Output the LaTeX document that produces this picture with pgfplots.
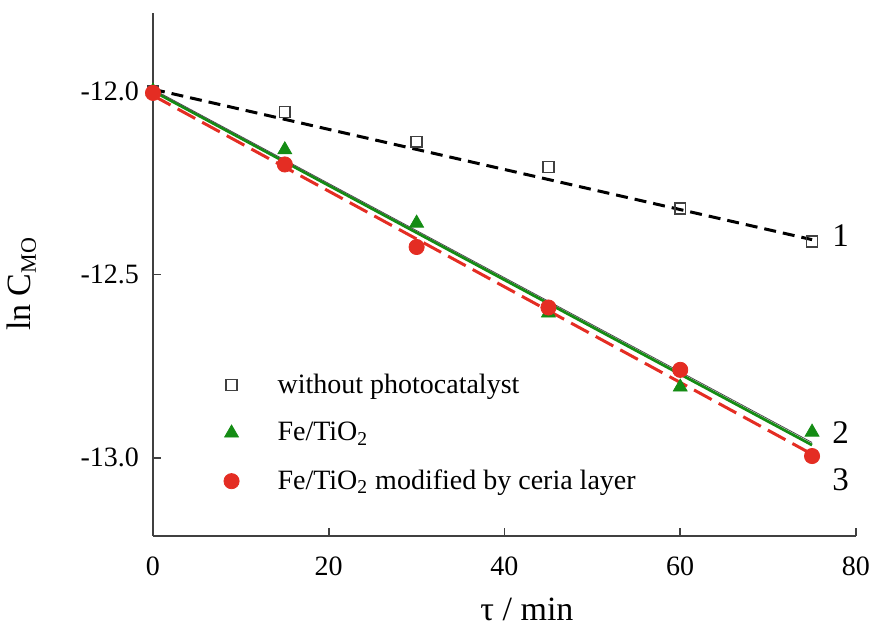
\documentclass[border=0pt]{standalone}
\usepackage{fontspec}
\setmainfont{Liberation Serif}
\usepackage{pgfplots}
\pgfplotsset{compat=1.18}

\definecolor{mygreen}{RGB}{20,140,20}
\definecolor{myred}{RGB}{228,45,35}

\begin{document}
\begin{tikzpicture}
\useasboundingbox (-76.5pt,-44.5pt) rectangle (360pt,268pt);
\begin{axis}[
  scale only axis,
  width=351.5pt, height=261.5pt,
  xmin=0, xmax=80,
  ymin=-13.213, ymax=-11.787,
  axis lines*=left,
  axis line style={black!75, line width=0.9pt},
  tick style={black!75, line width=0.9pt},
  tick align=inside,
  major tick length=4pt,
  xtick={0,20,40,60,80},
  xticklabels={0,20,40,60,80},
  ytick={-13,-12.5,-12},
  yticklabels={-13.0,-12.5,-12.0},
  ticklabel style={font=\fontsize{14}{16}\selectfont},
  xticklabel style={yshift=-7pt},
  yticklabel style={xshift=-3.5pt},
  xlabel={\fontsize{17}{20}\selectfont τ / min},
  xlabel style={at={(axis description cs:0.532,-0.14)}, anchor=center},
  ylabel={\fontsize{17}{20}\selectfont ln C\textsubscript{\fontsize{11}{12}\selectfont MO}},
  ylabel style={at={(axis description cs:-0.187,0.482)}, anchor=center, rotate=0},
  clip=false,
  legend style={draw=none, fill=none,
    at={(axis cs:7.3,-12.748)}, anchor=north west,
    font=\fontsize{14}{16}\selectfont,
    row sep=9pt,
    legend cell align=left},
  legend image code/.code={\path[draw=none] (-4pt,0pt) -- (21pt,0pt); \draw[#1] plot coordinates {(0pt,0pt)};},
]
% fitted lines
\addplot[forget plot, black, line width=1.5pt, dash pattern=on 6pt off 3.5pt]
  coordinates {(0,-11.995) (75,-12.405)};
\addplot[forget plot, mygreen, line width=1.4pt]
  coordinates {(0,-12.0) (75,-12.965)};
\addplot[forget plot, black!70, line width=0.4pt]
  coordinates {(0,-11.995) (75,-12.958)};
\addplot[forget plot, myred, line width=1.5pt, dash pattern=on 10pt off 4pt]
  coordinates {(0,-12.012) (75,-12.99)};

% measured points
\addplot[only marks, mark=square, mark size=2.7pt, mark options={black!75, line width=0.8pt}]
  coordinates {(0,-12.0) (15,-12.057) (30,-12.138) (45,-12.207) (60,-12.32) (75,-12.41)};
\addlegendentry{without photocatalyst}
\addplot[only marks, mark=triangle*, mark size=4pt, mark options={mygreen, fill=mygreen}]
  coordinates {(0,-12.0) (15,-12.16) (30,-12.36) (45,-12.605) (60,-12.807) (75,-12.93)};
\addlegendentry{Fe/TiO\textsubscript{2}}
\addplot[only marks, mark=*, mark size=3.8pt, mark options={myred, fill=myred}]
  coordinates {(0,-12.005) (15,-12.2) (30,-12.425) (45,-12.59) (60,-12.76) (75,-12.995)};
\addlegendentry{Fe/TiO\textsubscript{2} modified by ceria layer}

% curve numbers
\node[anchor=west, font=\fontsize{16.5}{19}\selectfont] at (axis cs:76.5,-12.395) {1};
\node[anchor=west, font=\fontsize{16.5}{19}\selectfont] at (axis cs:76.5,-12.93) {2};
\node[anchor=west, font=\fontsize{16.5}{19}\selectfont] at (axis cs:76.5,-13.06) {3};
\end{axis}
\end{tikzpicture}
\end{document}
